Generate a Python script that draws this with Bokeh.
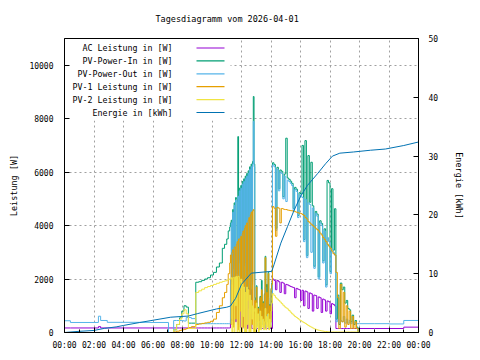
from bokeh.plotting import figure
from bokeh.models import Range1d, LinearAxis, FixedTicker, Label, BoxAnnotation
from bokeh.embed import file_html
from bokeh.resources import INLINE

TITLE = "Tagesdiagramm vom 2026-04-01"
X_TICKS = [0, 2, 4, 6, 8, 10, 12, 14, 16, 18, 20, 22, 24]
X_LABELS = ["00:00", "02:00", "04:00", "06:00", "08:00", "10:00", "12:00",
            "14:00", "16:00", "18:00", "20:00", "22:00", "00:00"]
Y_TICKS = [0, 2000, 4000, 6000, 8000, 10000]
Y2_TICKS = [0, 10, 20, 30, 40, 50]

times = [
    "00:00", "00:24", "02:18", "02:27", "02:54", "05:48", "07:03", "07:24", "07:36", "07:48",
    "07:57", "08:06", "08:15", "08:24", "08:36", "08:54", "09:06", "09:18", "09:30", "09:42",
    "09:54", "10:06", "10:18", "10:30", "10:42", "10:51", "11:00", "11:06", "11:12",
    "11:15", "11:18", "11:21", "11:24", "11:27", "11:30", "11:33", "11:36", "11:39", "11:42",
    "11:45", "11:48", "11:51", "11:54", "11:57", "12:00", "12:03", "12:06", "12:09", "12:12",
    "12:15", "12:18", "12:21", "12:24", "12:27", "12:30", "12:33", "12:36", "12:39", "12:42",
    "12:45", "12:48", "12:51", "12:54", "12:57", "13:00", "13:03", "13:06", "13:09", "13:12",
    "13:15", "13:18", "13:21", "13:24", "13:27", "13:30", "13:33", "13:36", "13:39", "13:42",
    "13:45", "13:48", "13:51", "13:54", "13:57", "14:00", "14:03",
    "14:06", "14:12", "14:18", "14:24", "14:30", "14:36", "14:42", "14:48", "14:54", "15:00",
    "15:06", "15:12", "15:18", "15:24", "15:30", "15:36", "15:42", "15:48", "15:54", "16:00",
    "16:06", "16:12", "16:18", "16:24", "16:30", "16:36", "16:42", "16:48", "16:54", "17:00",
    "17:06", "17:12", "17:18", "17:24", "17:30", "17:36", "17:42", "17:48", "17:54", "18:00",
    "18:06", "18:12", "18:18", "18:24",
    "18:30", "18:36", "18:42", "18:48", "18:54", "19:00", "19:06", "19:12", "19:18", "19:24",
    "19:30", "19:36", "19:42", "19:48", "19:54",
    "20:00", "21:00", "22:00", "23:00", "24:00",
]

ac_power = (
    [170, 170, 220, 170, 170, 170, 170, 170, 170, 170, 170, 170, 170, 170, 170,
     170, 170, 170, 170, 170, 170, 170, 170, 170, 170, 170, 170, 170, 170]
    + [450, 500, 450, 1000, 300, 1100, 1300, 400, 1500, 1550, 300, 1550, 1600, 200, 1600,
       1600, 150, 1650, 800, 1650, 200, 1700, 1650, 150, 1650, 900, 1650, 150, 1600, 150,
       150, 150, 150]
    + [150, 150, 150, 150, 150, 150, 150, 150, 350, 150, 150, 150, 150, 150, 350, 150,
       150, 150, 150, 150, 300, 150, 150, 150]
    + [2000, 1950, 1600, 1950, 1900, 1500, 1880, 1850, 1450, 1800, 1780, 1750, 1720, 1700,
       1680, 1300, 1650, 1620, 1600, 1200]
    + [1580, 1000, 1550, 1520, 900, 1480, 1450, 800, 1400, 1380, 900, 1330, 1300, 750,
       1250, 1220, 800, 1180, 1150, 700, 1080, 1050, 1000, 150]
    + [150] * 15
    + [150, 150, 150, 200, 200]
)

pv_power_in = (
    [0, 0, 0, 0, 0, 0, 0, 100, 300, 550, 800, 1000, 950, 350, 350,
     1880, 1900, 1950, 2000, 2050, 2150, 2250, 2450, 2600, 3150, 3300, 3500, 3800, 3950]
    + [4100, 4200, 1900, 4600, 2500, 4850, 1700, 5050, 5000, 2200, 7330, 2700, 5400, 1800,
       5500, 3100, 5650, 2000, 5750, 2600, 5850, 1000, 5950, 1600, 6050, 2300, 6200, 800,
       6300, 1900, 6400, 8830, 6300]
    + [1300, 250, 1750, 450, 950, 150, 650, 1350, 250, 1950, 550, 1150, 250, 1450, 2850,
       350, 1800, 750, 2250, 250, 1050, 450, 1650, 1850]
    + [6350, 6280, 3900, 6180, 5380, 6080, 6030, 5080, 5930, 7270, 5780, 5730, 5660, 5580,
       4640, 5430, 5360, 4380, 5230, 5180]
    + [7000, 3480, 7180, 2880, 6620, 4870, 6370, 4740, 2480, 4530, 4430, 2080, 4180, 4080,
       2680, 3880, 1780, 5690, 5600, 2280, 5380, 3080, 4630, 500]
    + [1400, 300, 1850, 1600, 1700, 1100, 1200, 900, 850, 400, 650, 300, 450, 200, 0]
    + [0, 0, 0, 0, 0]
)

pv_power_out = (
    [440, 375, 610, 450, 380, 375, 0, 450, 450, 450, 440, 430, 560, 560, 520,
     330, 330, 330, 330, 330, 330, 330, 330, 330, 330, 330, 330, 330, 330]
    + [2000, 4100, 1800, 4500, 2400, 4750, 1600, 4950, 4900, 2100, 5100, 2600, 5300, 1700,
       5400, 3000, 5550, 1900, 5650, 2500, 5750, 900, 5850, 1500, 5950, 2200, 6100, 700,
       6200, 1800, 6300, 7900, 6200]
    + [700, 150, 1000, 250, 550, 100, 350, 800, 150, 950, 300, 650, 150, 850, 1700, 200,
       900, 400, 1300, 150, 600, 250, 950, 1100]
    + [6270, 6200, 3820, 6100, 5300, 6000, 5950, 5000, 5850, 4900, 5700, 5650, 5580, 5500,
       4560, 5350, 5280, 4300, 5150, 5100]
    + [5050, 3400, 4980, 2800, 4850, 4790, 3000, 4660, 2400, 4450, 4350, 2000, 4100, 4000,
       2600, 3800, 1700, 3550, 3400, 2200, 3150, 3000, 2900, 400]
    + [500, 350, 450, 400, 600, 350, 500, 350, 450, 330, 400, 330, 330, 330, 330]
    + [330, 330, 320, 450, 450]
)

pv1_power = (
    [0, 0, 0, 0, 0, 0, 0, 20, 50, 80, 100, 120, 150, 180, 220,
     300, 320, 340, 360, 380, 420, 500, 750, 1000, 1300, 1500, 1800, 2200, 2600]
    + [2900, 300, 3000, 3100, 200, 3200, 3200, 500, 3300, 3400, 100, 3500, 3500, 800, 3600,
       0, 3700, 3800, 200, 3900, 4000, 0, 4100, 1200, 4200, 4300, 0, 4400, 4500, 300, 4550,
       4600, 0]
    + [1200, 200, 1700, 400, 900, 100, 600, 1300, 200, 1600, 500, 1100, 200, 1400, 2800,
       300, 1500, 700, 2200, 200, 1000, 400, 1600, 1800]
    + [4710, 4650, 3600, 4680, 4650, 4100, 4640, 4620, 4600, 4600, 4580, 4570, 4560, 4550,
       4540, 4520, 4500, 4480, 4460, 4450]
    + [4420, 4380, 4300, 4250, 4150, 4100, 4050, 4000, 3950, 3900, 3850, 3800, 3720, 3650,
       3550, 3480, 3400, 3300, 3230, 3150, 3050, 2950, 2900, 2250]
    + [1300, 150, 1800, 400, 1500, 200, 1000, 300, 800, 150, 600, 150, 400, 150, 0]
    + [0, 0, 0, 0, 0]
)

pv2_power = (
    [0, 0, 0, 0, 0, 0, 0, 100, 300, 500, 700, 850, 700, 150, 150,
     1500, 1560, 1620, 1680, 1720, 1760, 1800, 1840, 1880, 1910, 1930, 1960, 1990, 2010]
    + [2000, 2050, 0, 2050, 2050, 0, 2080, 1000, 2100, 0, 2100, 2100, 0, 1900, 2000, 0,
       1800, 600, 1700, 0, 1500, 0, 1700, 300, 1600, 0, 1400, 0, 1200, 500, 1000, 0, 800]
    + [900, 0, 1100, 200, 700, 0, 400, 800, 100, 600, 200, 500, 100, 400, 900, 100, 600,
       200, 700, 100, 500, 200, 800, 1100]
    + [1450, 1380, 1300, 1250, 1200, 1140, 1080, 1020, 960, 920, 880, 820, 760, 700, 650,
       600, 560, 520, 470, 440]
    + [400, 370, 340, 300, 260, 230, 200, 170, 140, 120, 100, 85, 70, 60, 50, 40, 35, 30,
       25, 20, 20, 20, 20, 20]
    + [20] * 14 + [0]
    + [0, 0, 0, 0, 0]
)

energy_times = ["00:00", "01:00", "02:00", "02:42", "03:30", "04:00", "05:06", "05:48",
                "07:12", "08:24", "09:00", "10:18", "11:00", "11:15", "11:36", "12:00",
                "12:40", "14:03", "14:12", "14:40", "15:07", "15:34", "16:01", "16:28",
                "17:09", "17:42", "18:10", "18:40", "19:36", "20:45", "21:45", "23:00", "24:00"]
energy_kwh = [0.0, 0.2, 0.35, 0.7, 0.95, 1.2, 1.7, 2.0,
              2.6, 2.8, 3.2, 4.0, 4.3, 4.5, 5.8, 8.2,
              10.1, 10.4, 11.5, 15.2, 18.0, 20.8, 23.2, 25.0,
              27.0, 28.7, 30.0, 30.5, 30.7, 31.0, 31.2, 31.8, 32.4]

SERIES = [
    ("AC Leistung in [W]", ac_power, "#9400d3"),
    ("PV-Power-In in [W]", pv_power_in, "#009e73"),
    ("PV-Power-Out in [W]", pv_power_out, "#56b4e9"),
    ("PV-1 Leistung in [W]", pv1_power, "#e69f00"),
    ("PV-2 Leistung in [W]", pv2_power, "#f0e442"),
]
ENERGY = ("Energie in [kWh]", "#0072b2")

FONT = "DejaVu Sans Mono"


def to_hours(ts):
    return [int(t[:2]) + int(t[3:]) / 60.0 for t in ts]


hours = to_hours(times)
ehours = to_hours(energy_times)

p = figure(width=480, height=360, output_backend="svg", toolbar_location=None,
           x_range=Range1d(0, 24), y_range=Range1d(0, 11000),
           min_border_left=64, min_border_right=62, min_border_top=38, min_border_bottom=28)
p.extra_y_ranges = {"energy": Range1d(0, 50)}
p.background_fill_color = "white"
p.border_fill_color = "white"
p.outline_line_color = "black"
p.outline_line_width = 1

# trailing blank line lifts the title line towards the top edge
p.title.text = TITLE + "\n "
p.title.align = "left"
p.title.offset = 91
p.title.standoff = 10
p.title.text_font = FONT
p.title.text_font_size = "8.5px"
p.title.text_font_style = "normal"
p.title.text_color = "black"

right = LinearAxis(y_range_name="energy")
p.add_layout(right, "right")

xa = p.xaxis[0]
ya = p.yaxis[0]
xa.ticker = FixedTicker(ticks=X_TICKS, minor_ticks=list(range(1, 24, 2)))
xa.major_label_overrides = {t: l for t, l in zip(X_TICKS, X_LABELS)}
ya.ticker = FixedTicker(ticks=Y_TICKS)
right.ticker = FixedTicker(ticks=Y2_TICKS)
ya.axis_label = "Leistung [W]"
right.axis_label = "Energie [kWh]"

for ax in (xa, ya, right):
    ax.axis_line_color = "black"
    ax.major_tick_line_color = "black"
    ax.minor_tick_line_color = "black"
    ax.major_tick_in = 5
    ax.major_tick_out = 0
    ax.minor_tick_in = 0
    ax.minor_tick_out = 0
    ax.major_label_text_font = FONT
    ax.major_label_text_font_size = "8px"
    ax.major_label_text_color = "black"
    ax.axis_label_text_font = FONT
    ax.axis_label_text_font_size = "8.5px"
    ax.axis_label_text_font_style = "normal"
    ax.axis_label_text_color = "black"
xa.minor_tick_in = 3
xa.major_label_standoff = 8
ya.major_label_standoff = 11
ya.axis_label_standoff = 7
right.major_label_standoff = 10
right.axis_label_standoff = 13

p.xgrid[0].ticker = FixedTicker(ticks=X_TICKS[1:-1])
p.ygrid[0].ticker = FixedTicker(ticks=Y_TICKS[1:])
for g in (p.xgrid[0], p.ygrid[0]):
    g.grid_line_color = "#a0a0a0"
    g.grid_line_dash = "2 3"
    g.grid_line_width = 1

# opaque key area (hides grid behind key)
p.add_layout(BoxAnnotation(left=1, right=166, bottom=212, top=293,
                           left_units="screen", right_units="screen",
                           bottom_units="screen", top_units="screen",
                           fill_color="white", fill_alpha=1, line_color=None,
                           level="underlay"), "center")

for name, vals, col in SERIES:
    p.step(x=hours, y=vals, mode="after", line_color=col, line_width=1)
p.line(x=ehours, y=energy_kwh, line_color=ENERGY[1], line_width=1, y_range_name="energy")

# gnuplot-style key: text right-aligned, sample to the right
keys = [(n, c) for n, _, c in SERIES] + [ENERGY]
for i, (name, col) in enumerate(keys):
    yk = 284.5 - 12.9 * i
    p.add_layout(Label(x=108, y=yk, x_units="screen", y_units="screen", text=name,
                       text_align="right", text_baseline="middle", text_font=FONT,
                       text_font_size="8.3px", text_color="black"))
    p.add_layout(BoxAnnotation(left=132, right=160, bottom=yk - 0.6, top=yk + 0.6,
                               left_units="screen", right_units="screen",
                               bottom_units="screen", top_units="screen",
                               fill_color=col, fill_alpha=1, line_color=None))

open("out.html", "w").write(file_html(p, INLINE))
